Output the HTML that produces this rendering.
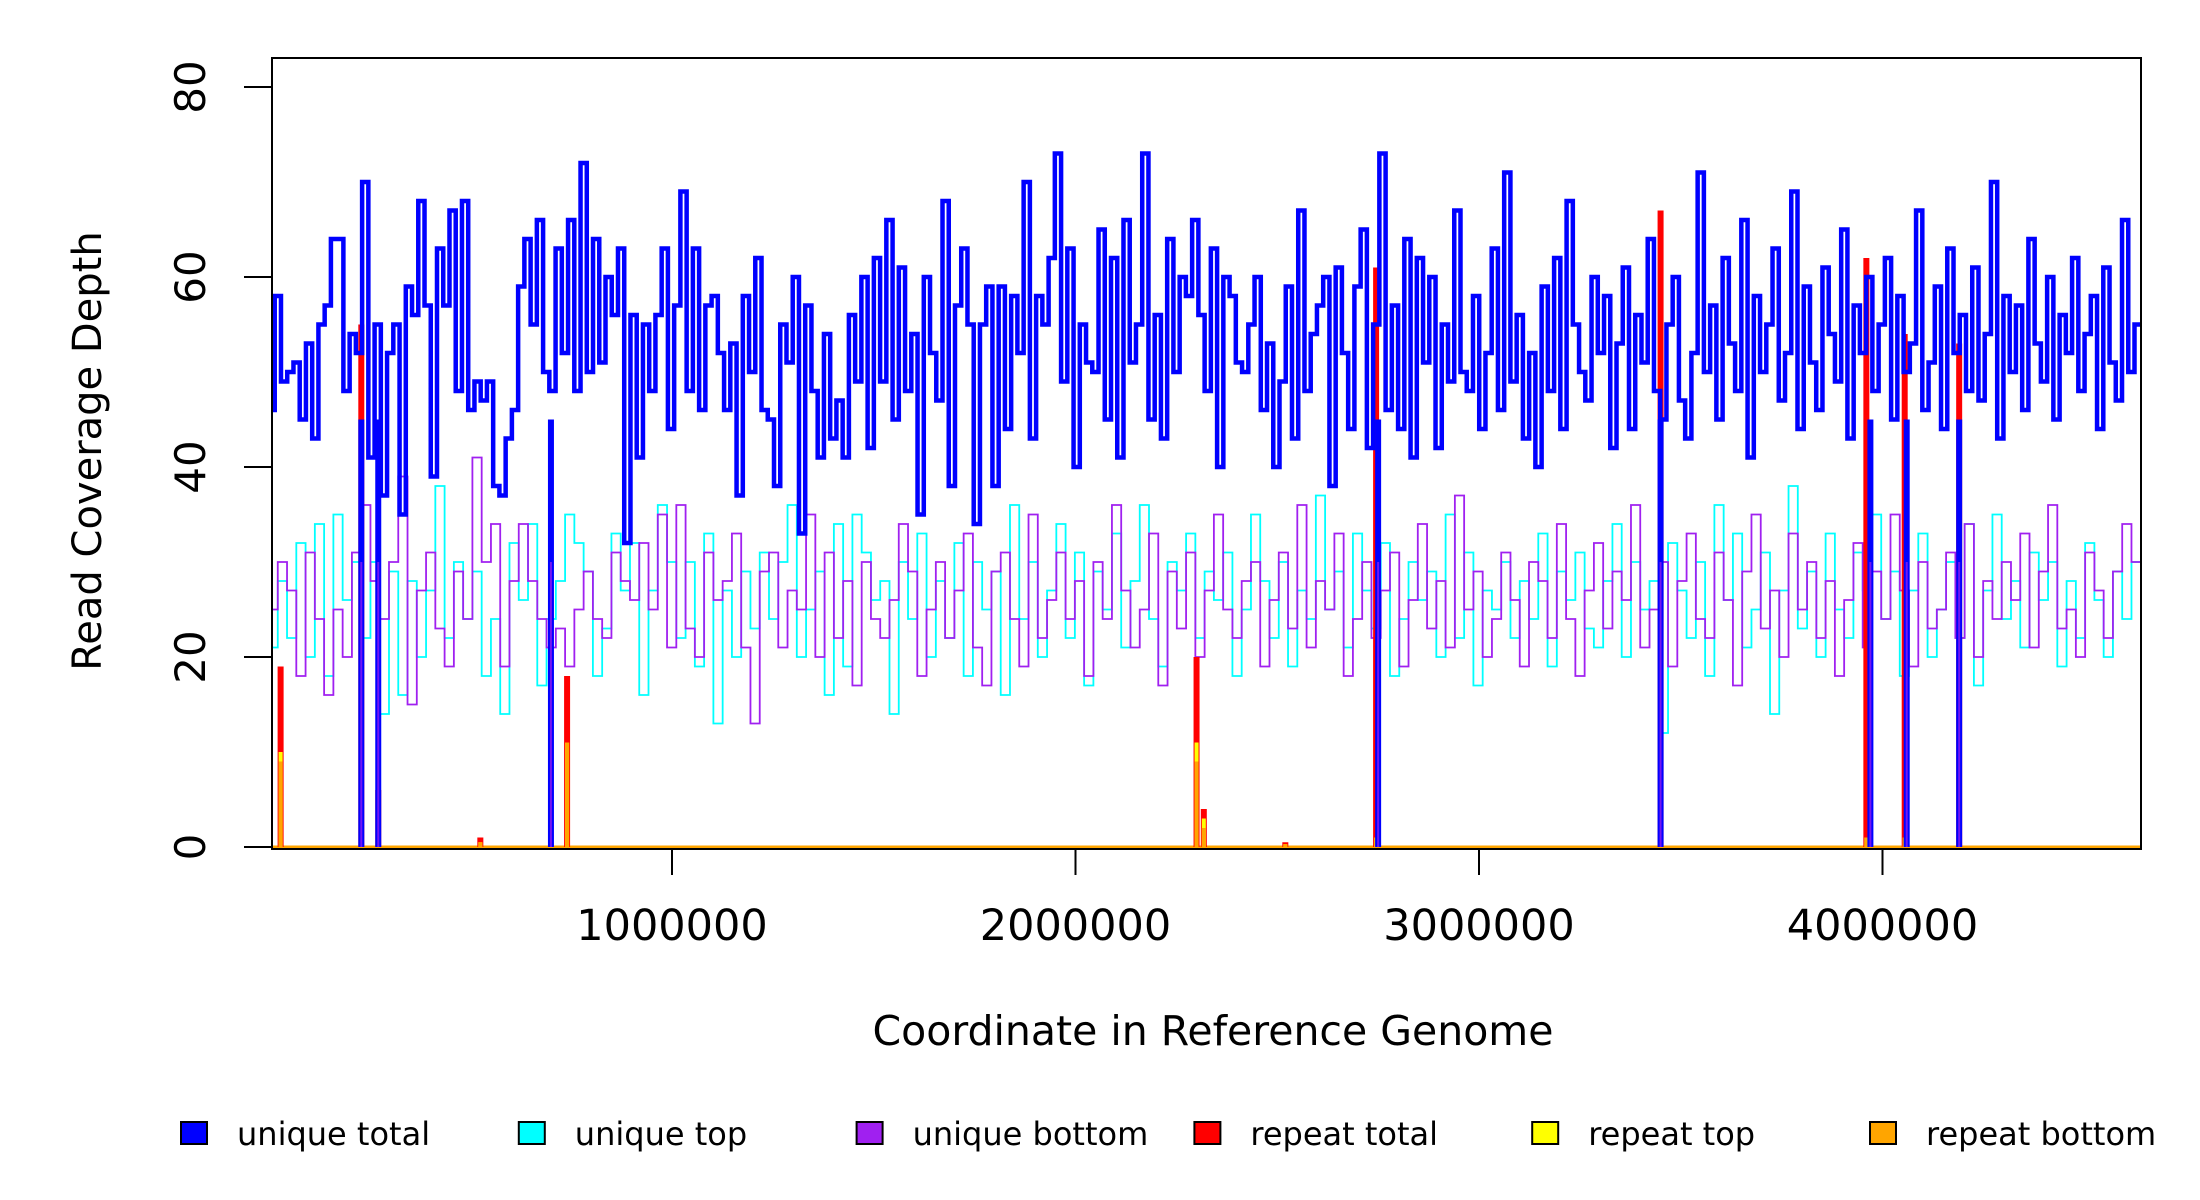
<!DOCTYPE html>
<html><head><meta charset="utf-8"><style>
html,body{margin:0;padding:0;background:#fff}
svg{display:block}
text{font-family:"DejaVu Sans","Liberation Sans",sans-serif;fill:#000}
</style></head><body>
<svg id="chart" width="2200" height="1200" viewBox="0 0 2200 1200" xmlns="http://www.w3.org/2000/svg">
<defs><clipPath id="pc"><rect x="272" y="58" width="1869" height="791"/></clipPath></defs>
<g id="series" clip-path="url(#pc)"></g>
<rect x="272" y="58" width="1869" height="791" fill="none" stroke="#000" stroke-width="2"/>
<g id="axes"></g>
<text transform="translate(101,451) rotate(-90)" text-anchor="middle" font-size="40">Read Coverage Depth</text>
<text x="1213" y="1045" text-anchor="middle" font-size="41">Coordinate in Reference Genome</text>
<g id="legend"></g>
</svg>
<script>
const genomeLen = 4640000;
const yTicks = [0, 20, 40, 60, 80];
const xTicks = [1000000, 2000000, 3000000, 4000000];
const uniqueTotal = [46,58,49,50,51,45,53,43,55,57,64,64,48,54,52,70,41,55,37,52,55,35,59,56,68,57,39,63,57,67,48,68,46,49,47,49,38,37,43,46,59,64,55,66,50,48,63,52,66,48,72,50,64,51,60,56,63,32,56,41,55,48,56,63,44,57,69,48,63,46,57,58,52,46,53,37,58,50,62,46,45,38,55,51,60,33,57,48,41,54,43,47,41,56,49,60,42,62,49,66,45,61,48,54,35,60,52,47,68,38,57,63,55,34,55,59,38,59,44,58,52,70,43,58,55,62,73,49,63,40,55,51,50,65,45,62,41,66,51,55,73,45,56,43,64,50,60,58,66,56,48,63,40,60,58,51,50,55,60,46,53,40,49,59,43,67,48,54,57,60,38,61,52,44,59,65,42,55,73,46,57,44,64,41,62,51,60,42,55,49,67,50,48,58,44,52,63,46,71,49,56,43,52,40,59,48,62,44,68,55,50,47,60,52,58,42,53,61,44,56,51,64,48,45,55,60,47,43,52,71,50,57,45,62,53,48,66,41,58,50,55,63,47,52,69,44,59,51,46,61,54,49,65,43,57,52,60,48,55,62,45,58,50,53,67,46,51,59,44,63,52,56,48,61,47,54,70,43,58,50,57,46,64,53,49,60,45,56,52,62,48,54,58,44,61,51,47,66,50,55];
const uniqueTop = [21,28,22,32,20,34,18,35,26,30,22,30,14,29,16,28,20,27,38,22,30,24,29,18,24,14,32,26,34,17,24,28,35,32,29,18,23,33,27,32,16,27,36,30,22,30,19,33,13,27,20,29,23,31,24,30,36,20,25,29,16,34,19,35,31,26,28,14,30,24,33,20,28,22,32,18,30,25,29,16,36,24,30,20,27,34,22,31,17,29,25,33,21,28,36,24,19,30,27,33,22,29,26,31,18,25,35,28,22,30,19,27,24,37,25,29,21,33,27,23,32,18,24,30,26,29,20,35,22,31,17,27,25,30,22,28,24,33,19,29,26,31,23,21,28,34,20,30,25,28,12,32,27,22,30,18,36,26,33,21,25,31,14,27,38,23,29,20,33,25,22,31,27,35,24,29,18,27,33,20,25,30,22,34,17,27,35,24,28,21,31,26,30,19,28,22,32,26,20,29,24,30];
const uniqueBottom = [25,30,27,18,31,24,16,25,20,31,36,28,24,30,39,15,27,31,23,19,29,24,41,30,34,19,28,34,28,24,21,23,19,25,29,24,22,31,28,26,32,25,35,21,36,23,20,31,26,28,33,21,13,29,31,21,27,25,35,20,31,22,28,17,30,24,22,26,34,29,18,25,30,22,27,33,21,17,29,31,24,19,35,22,26,31,24,28,18,30,24,36,27,21,25,33,17,29,23,31,20,27,35,25,22,28,30,19,26,31,23,36,21,28,25,33,18,24,30,22,27,31,19,26,34,23,28,21,37,25,29,20,24,31,26,19,30,28,22,34,24,18,27,32,23,29,26,36,21,25,30,19,28,33,24,22,31,26,17,29,35,23,27,20,33,25,30,22,28,18,26,32,21,29,24,35,27,19,30,23,25,31,22,34,20,28,24,30,26,33,21,29,36,23,25,20,31,27,22,29,34,30];
const dropPositions = [230000, 272000, 700000, 2750000, 3450000, 3970000, 4060000, 4190000];
const dropTops = [55, 63, 63, 78, 66, 63, 54, 52];
const repeatPositions = [30000, 230000, 272000, 525000, 740000, 2300000, 2318000, 2520000, 2745000, 3450000, 3960000, 4055000, 4190000];
const repeatTotal = [19, 55, 6, 1, 18, 20, 4, 0.5, 61, 67, 62, 54, 53];
const repeatTop = [10, 2, 1, 0.5, 11, 11, 3, 0.3, 1, 1, 1, 1, 2];
const repeatBottom = [9, 1, 1, 0.5, 11, 9, 2, 0.3, 1, 1, 1, 1, 2];
const legendLabels = ["unique total","unique top","unique bottom","repeat total","repeat top","repeat bottom"];
const legendColors = ["#0000ff","#00ffff","#a020f0","#ff0000","#ffff00","#ffa500"];

const NS = "http://www.w3.org/2000/svg";
const X0 = 268.5, PXM = 403.5;
const xs = v => X0 + v / 1e6 * PXM;
const ys = v => 847 - v * 9.5;
function mk(tag, attrs, parent){const e=document.createElementNS(NS,tag);for(const k in attrs)e.setAttribute(k,attrs[k]);parent.appendChild(e);return e;}
const series = document.getElementById('series');
const axes = document.getElementById('axes');
const legend = document.getElementById('legend');

const base = mk('line',{x1:272,x2:2141,y1:ys(0),y2:ys(0),stroke:'#ffa500','stroke-width':3},series);



function stepPath(vals, color, w, name){
  const bw = genomeLen / vals.length;
  let d = '';
  vals.forEach((v,i)=>{
    const xa = xs(i*bw), xb = xs((i+1)*bw), y = ys(v);
    d += (i===0 ? 'M'+xa+','+y : 'L'+xa+','+y) + 'L'+xb+','+y;
  });
  const p = mk('path',{d:d,fill:'none',stroke:color,'stroke-width':w,'stroke-linejoin':'miter'},series);
  
  
}
stepPath(uniqueTop,'#00ffff',1.8,'unique-top-line');
stepPath(uniqueBottom,'#a020f0',1.8,'unique-bottom-line');

function spikes(vals,color,w,name){
  repeatPositions.forEach((p,i)=>{
    const r = mk('rect',{x:xs(p)-w/2,y:ys(vals[i]),width:w,height:Math.max(1,ys(0)-ys(vals[i])),fill:color},series);
    
    
  });
}
spikes(repeatTotal,'#ff0000',6,'repeat-total-spike');
stepPath(uniqueTotal,'#0000ff',4.5,'unique-total-line');
spikes(repeatTop,'#ffff00',4,'repeat-top-spike');
spikes(repeatBottom,'#ffa500',4,'repeat-bottom-spike');

dropPositions.forEach((p,i)=>{
  const l = mk('line',{x1:xs(p),x2:xs(p),y1:ys(Math.min(dropTops[i],45)),y2:ys(0),stroke:'#0000ff','stroke-width':6},series);
  
  
  const l2 = mk('line',{x1:xs(p),x2:xs(p),y1:ys(30),y2:ys(0),stroke:'#a020f0','stroke-width':2,'stroke-opacity':0.7},series);
  
  
});

yTicks.forEach(t=>{
  const l = mk('line',{x1:244,x2:272,y1:ys(t),y2:ys(t),stroke:'#000','stroke-width':2},axes);
  
  
  const tx = mk('text',{transform:'translate(205,'+ys(t)+') rotate(-90)','text-anchor':'middle','font-size':42},axes);
  tx.textContent = t;
  
  
});
xTicks.forEach(t=>{
  const l = mk('line',{x1:xs(t),x2:xs(t),y1:849,y2:875,stroke:'#000','stroke-width':2},axes);
  
  
  const tx = mk('text',{x:xs(t),y:940,'text-anchor':'middle','font-size':43},axes);
  tx.textContent = t;
  
  
});
legendLabels.forEach((lab,i)=>{
  const x = 181 + i*337.8;
  const r = mk('rect',{x:x,y:1122,width:26,height:22,fill:legendColors[i],stroke:'#000','stroke-width':2},legend);
  
  
  const tx = mk('text',{x:x+56,y:1145,'font-size':32},legend);
  tx.textContent = lab;
  
  
});
</script>
</body></html>
